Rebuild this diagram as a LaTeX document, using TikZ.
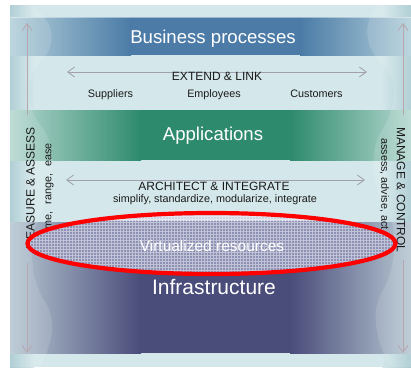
\documentclass[tikz,border=0pt]{standalone}
\usepackage{fontspec}
\setmainfont{Liberation Sans}
\usetikzlibrary{arrows.meta}

\definecolor{bgteal}{HTML}{D4E7EA}
\definecolor{edgeteal}{HTML}{A6C9D0}
\definecolor{bizcore}{HTML}{4B7BA6}
\definecolor{bizedge}{HTML}{B3D0DA}
\definecolor{appcore}{HTML}{2E8A6C}
\definecolor{appedge}{HTML}{B4D7CF}
\definecolor{infcore}{HTML}{4A4C7A}
\definecolor{infedge}{HTML}{B6C7D2}
\definecolor{arrowgrey}{HTML}{A0A0AE}
\definecolor{vertgrey}{HTML}{B6A6AE}
\definecolor{meshfill}{HTML}{8E90B4}
\definecolor{meshtop}{HTML}{CDD3E2}
\definecolor{ringred}{HTML}{FF0000}
\definecolor{inktext}{HTML}{1A1A1A}

\begin{document}
\begin{tikzpicture}[x=1pt,y=-1pt,
  bandtitle/.style={text=white, font=\fontsize{18.6}{21}\selectfont, inner sep=0pt, anchor=base},
  captext/.style={text=inktext, font=\fontsize{12}{14}\selectfont, inner sep=0pt},
  smalltext/.style={text=inktext, font=\fontsize{10.8}{12}\selectfont, inner sep=0pt},
  barb/.tip={Straight Barb[length=7pt,width=10pt]},
  harrow/.style={draw=arrowgrey, line width=0.8pt, barb-barb},
  varrow/.style={draw=vertgrey, line width=0.8pt, -barb},
  glare/.style={fill=white, opacity=0.13},
]
\useasboundingbox (0,0) rectangle (411,367);
\fill[white] (0,0) rectangle (411,367);

% backdrop with darker teal edges
\fill[bgteal] (10,5) rectangle (411,367);
\fill[left color=edgeteal, right color=bgteal] (10,5) rectangle (34,367);
\fill[left color=bgteal, right color=edgeteal] (382,5) rectangle (411,367);

% business processes band
\fill[left color=bizedge, right color=bizcore] (10,17) rectangle (131,55);
\fill[bizcore] (130,17) rectangle (301,55);
\fill[left color=bizcore, right color=bizedge] (300,17) rectangle (411,55);
\draw[white, opacity=0.45, line width=1.2pt] (10,17.6) -- (411,17.6);

% applications band
\fill[left color=appedge, right color=appcore] (10,110) rectangle (141,160);
\fill[appcore] (140,110) rectangle (291,160);
\fill[left color=appcore, right color=appedge] (290,110) rectangle (411,160);

% infrastructure band
\fill[left color=infedge, right color=infcore] (10,222) rectangle (141,353);
\fill[infcore] (140,222) rectangle (291,353);
\fill[left color=infcore, right color=infedge] (290,222) rectangle (411,353);

% soft light swirls along both sides
\fill[glare] (30,5) .. controls (58,22) and (56,48) .. (40,62)
  .. controls (24,78) and (26,110) .. (44,130)
  .. controls (58,150) and (52,190) .. (40,215)
  .. controls (28,240) and (30,280) .. (44,300)
  .. controls (58,320) and (52,345) .. (40,367)
  -- (10,367) -- (10,5) -- cycle;
\fill[glare] (378,5) .. controls (360,25) and (366,50) .. (384,66)
  .. controls (398,80) and (396,110) .. (382,130)
  .. controls (368,150) and (372,190) .. (388,212)
  .. controls (398,230) and (396,270) .. (382,292)
  .. controls (370,312) and (376,340) .. (390,367)
  -- (411,367) -- (411,5) -- cycle;

% band titles
\node[bandtitle] (biz) at (213,43) {Business processes};
\node[bandtitle] (app) at (213,140) {Applications};
\node[bandtitle, font=\fontsize{21}{24}\selectfont] (infra) at (214,294) {Infrastructure};

% extend & link row
\coordinate (extl) at (67,72);
\coordinate (extr) at (367,72);
\draw[harrow] (extl) -- (extr);
\node[captext, anchor=base] (extend) at (217,80) {EXTEND \& LINK};
\node[smalltext, anchor=base] (supp) at (110.5,97.7) {Suppliers};
\node[smalltext, anchor=base] (empl) at (214,97.7) {Employees};
\node[smalltext, anchor=base] (cust) at (316.5,97.7) {Customers};

% architect & integrate row
\coordinate (arcl) at (66,180);
\coordinate (arcr) at (365,180);
\draw[harrow] (arcl) -- (arcr);
\node[captext, anchor=base] (arch) at (214,190.7) {ARCHITECT \& INTEGRATE};
\node[smalltext, anchor=base] (simp) at (215,202.5) {simplify, standardize, modularize, integrate};

% side labels
\node[captext, rotate=90] (measure) at (30.5,188) {MEASURE \& ASSESS};
\node[smalltext, rotate=90, anchor=east] (tre) at (48.5,143) {time,\hspace{7pt}range,\hspace{7pt}ease};
\node[captext, rotate=-90] (manage) at (401,190) {MANAGE \& CONTROL};
\node[smalltext, rotate=-90, anchor=west] (aaa) at (384.5,138) {assess, advise, act};

% vertical arrows on both sides
\coordinate (ltip) at (27,23);
\coordinate (lupper) at (27,115);
\coordinate (llower) at (27,263);
\coordinate (lbot) at (27,353);
\draw[varrow] (lupper) -- (ltip);
\draw[varrow] (llower) -- (lbot);
\coordinate (rtip) at (403,23);
\coordinate (rupper) at (403,115);
\coordinate (rlower) at (403,260);
\coordinate (rbot) at (403,353);
\draw[varrow] (rupper) -- (rtip);
\draw[varrow] (rlower) -- (rbot);

% virtualized resources layer: meshed ellipse
\begin{scope}
  \clip (211.5,243.5) ellipse [x radius=184pt, y radius=30.5pt];
  \fill[meshfill] (20,205) rectangle (405,280);
  \fill[meshtop] (20,205) rectangle (405,221);
  \draw[white, opacity=0.45, line width=0.7pt, step=3pt] (20,280) grid (405,205);
\end{scope}
\draw[ringred, line width=4.2pt] (211.5,243.5) ellipse [x radius=184pt, y radius=30.5pt];
\node[bandtitle, font=\fontsize{15.5}{17}\selectfont] (virt) at (212,251) {Virtualized resources};
\end{tikzpicture}
\end{document}
